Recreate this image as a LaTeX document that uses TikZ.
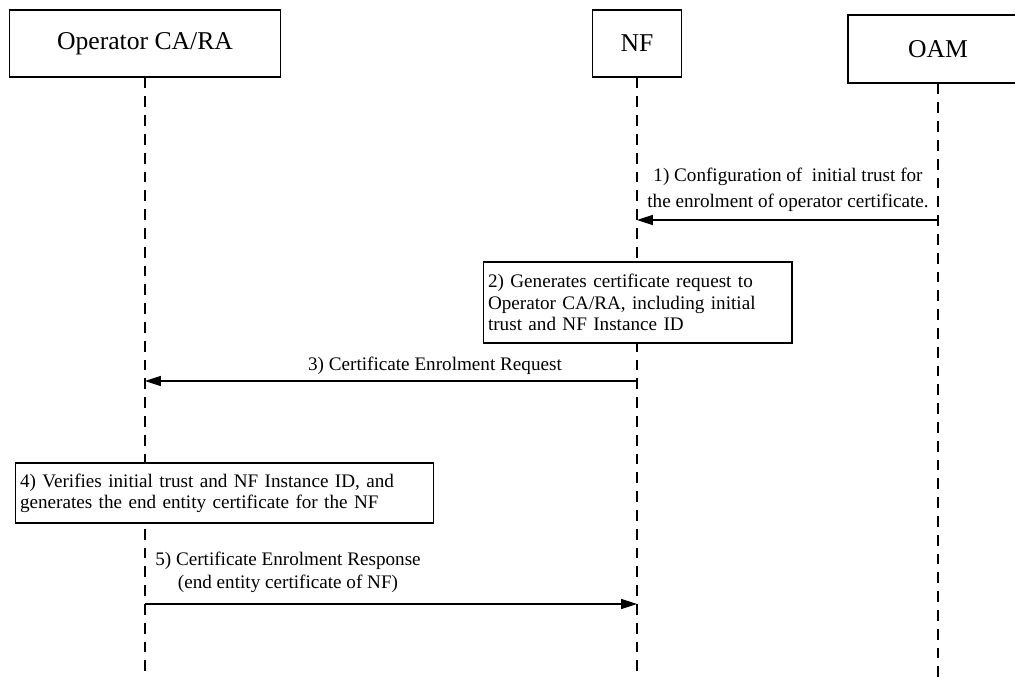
\documentclass[tikz,border=0pt]{standalone}
\usepackage{fontspec}
\setmainfont{Liberation Serif}
\usetikzlibrary{arrows.meta}

\tikzset{
	actor/.style={draw, line width=0.6pt, inner sep=0pt, font=\fontsize{14.6}{17}\selectfont},
	lifeline/.style={line width=0.6pt, dash pattern=on 6.2pt off 4.5pt},
	msg/.style={line width=0.6pt, -{Triangle[length=9pt, width=5.7pt]}},
	msgtext/.style={align=center, inner sep=0pt, font=\fontsize{10.9}{14.7}\selectfont},
	stepnote/.style={draw, fill=white, line width=0.6pt, align=left, inner xsep=0.1cm, inner ysep=0pt}
}

\begin{document}
\begin{tikzpicture}[x=0.02cm, y=-0.02cm]
		\useasboundingbox (0,0) rectangle (1015,679);
		
		% actors
		\node[actor, minimum width=5.42cm, minimum height=1.34cm] (op) at (145,43.5) {Operator CA/RA};
		\node[actor, minimum width=1.78cm, minimum height=1.34cm] (nf) at (637,43.5) {NF};
		\node[actor, minimum width=3.6cm, minimum height=1.36cm] (oam) at (938,49) {OAM};
		
		% lifelines
		\coordinate (bottom) at (0,679);
		\draw[lifeline] (op.south) -- (op |- bottom);
		\draw[lifeline] (nf.south) -- (nf |- bottom);
		\draw[lifeline] (oam.south) -- (oam |- bottom);
		
		% 1)
		\coordinate (m1) at (0,220);
		\draw[msg] (oam |- m1) -- (nf |- m1);
		\node[msgtext] (t1) at (788,190) {1) Configuration of \ initial trust for\\the enrolment of operator certificate.};
		
		% 2)
		\node[stepnote, text width=5.98cm, minimum height=1.62cm, font=\fontsize{10.9}{12.2}\selectfont] (s2) at (637.5,302.5)
			{2) Generates certificate request to\\Operator CA/RA, including initial\\trust and NF Instance ID};
		
		% 3)
		\coordinate (m3) at (0,381);
		\draw[msg] (nf |- m3) -- (op |- m3);
		\node[msgtext] (t3) at (435,366) {3) Certificate Enrolment Request};
		
		% 4)
		\node[stepnote, text width=8.18cm, minimum height=1.2cm, font=\fontsize{10.9}{11.9}\selectfont] (s4) at (224.5,493)
			{4) Verifies initial trust and NF Instance ID, and\\generates the end entity certificate for the NF};
		
		% 5)
		\coordinate (m5) at (0,604);
		\draw[msg] (op |- m5) -- (nf |- m5);
		\node[msgtext, font=\fontsize{10.9}{13}\selectfont] (t5) at (288,572) {5) Certificate Enrolment Response\\(end entity certificate of NF)};
		
	\end{tikzpicture}
\end{document}
